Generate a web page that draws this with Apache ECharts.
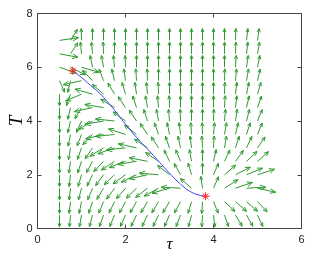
<!DOCTYPE html>
<html><head><meta charset="utf-8">
<script src="https://cdn.jsdelivr.net/npm/echarts@6/dist/echarts.min.js"></script>
<style>html,body{margin:0;padding:0;background:#fff}#c{width:314px;height:259px}</style>
</head><body><div id="c"></div>
<script>
// grid of quiver tails
const gridX = [0.5,0.75,1.0,1.25,1.5,1.75,2.0,2.25,2.5,2.75,3.0,3.25,3.5,3.75,4.0,4.25,4.5,4.75,5.0];
const gridY = [7.0,6.5,6.0,5.5,5.0,4.5,4.0,3.5,3.0,2.5,2.0,1.5,1.0,0.5];
// direction of each (normalised) arrow, degrees in data space, one row per gridY
const angles = [
  [13, 69, 91, 90, 90, 90, 90, 90, 90, 90, 90, 90, 90, 90, 90, 90, 89, 86, 85],
  [343, 68, 93, 93, 91, 90, 90, 90, 90, 90, 90, 90, 90, 90, 90, 90, 89, 86, 84],
  [330, 320, 335, 97, 96, 93, 91, 90, 90, 90, 90, 90, 90, 90, 90, 90, 88, 85, 83],
  [285, 262, 200, 120, 103, 98, 95, 92, 91, 90, 90, 90, 90, 90, 90, 89, 87, 84, 82],
  [270, 258, 215, 155, 125, 110, 100, 95, 93, 91, 90, 90, 90, 90, 90, 89, 86, 83, 80],
  [270, 262, 250, 200, 165, 135, 112, 101, 96, 93, 91, 90, 90, 90, 90, 88, 86, 82, 78],
  [270, 262, 255, 225, 196, 170, 130, 112, 101, 96, 93, 91, 90, 90, 89, 87, 85, 81, 76],
  [270, 263, 257, 240, 202, 190, 152, 128, 112, 102, 97, 94, 92, 91, 87, 84, 82, 79, 76],
  [270, 264, 258, 248, 225, 210, 190, 160, 132, 112, 102, 97, 94, 92, 88, 84, 79, 74, 67],
  [270, 265, 259, 252, 240, 228, 212, 195, 162, 132, 106, 104, 96, 90, 82, 74, 66, 57, 55],
  [270, 266, 260, 254, 246, 238, 230, 219, 200, 172, 128, 109, 100, 90, 75, 55, 40, 34, 28],
  [270, 266, 261, 256, 250, 246, 242, 238, 232, 222, 205, 175, 125, 95, 75, 46, 29, 5, 340],
  [270, 266, 263, 259, 256, 254, 252, 251, 250, 250, 250, 252, 260, 268, 284, 303, 305, 305, 300],
  [270, 267, 264, 261, 258, 256, 255, 254, 254, 254, 255, 257, 261, 268, 274, 282, 290, 289, 286]
];
const ARROW_LEN = 0.44;
// trajectory
const trajX = [0.80, 1.00, 1.20, 1.42, 1.70, 2.00, 2.30, 2.56, 2.82, 3.05, 3.30, 3.50, 3.68, 3.82];
const trajY = [5.87, 5.62, 5.33, 5.02, 4.50, 3.88, 3.30, 2.85, 2.38, 1.97, 1.58, 1.35, 1.24, 1.20];
const markX = [0.80, 3.82];
const markY = [5.87, 1.20];
const xTicks = [0, 2, 4, 6];
const yTicks = [0, 2, 4, 6, 8];

const quiverData = [];
gridY.forEach((y, r) => gridX.forEach((x, c) => quiverData.push([x, y, angles[r][c]])));
const trajData = trajX.map((x, i) => [x, trajY[i]]);
const markData = markX.map((x, i) => [x, markY[i]]);

const GREEN = '#2f9a2f';
const AX = '#444';
const chart = echarts.init(document.getElementById('c'), null, {renderer: 'canvas'});
const axBase = {
  type: 'value', splitLine: {show: false},
  axisLine: {show: true, onZero: false, lineStyle: {color: AX, width: 1}},
  axisTick: {show: true, inside: true, length: 4, lineStyle: {color: AX}},
};
chart.setOption({
  animation: false,
  grid: {left: 37.5, top: 13.5, width: 264, height: 215, containLabel: false, outerBoundsMode: 'none'},
  xAxis: [
    Object.assign({}, axBase, {min: xTicks[0], max: xTicks[xTicks.length-1], interval: 2, position: 'bottom',
      name: 'τ', nameLocation: 'middle', nameGap: 8, nameMoveOverlap: false,
      nameTextStyle: {fontFamily: 'Liberation Serif', fontStyle: 'italic', fontSize: 17, color: '#000'},
      axisLabel: {margin: 6, fontFamily: 'Liberation Sans', fontSize: 11, color: '#222'}}),
    Object.assign({}, axBase, {min: 0, max: 6, interval: 2, position: 'top', axisLabel: {show: false}})
  ],
  yAxis: [
    Object.assign({}, axBase, {min: yTicks[0], max: yTicks[yTicks.length-1], interval: 2, position: 'left',
      name: 'T', nameLocation: 'middle', nameGap: 11.5, nameMoveOverlap: false,
      nameTextStyle: {fontFamily: 'Liberation Serif', fontStyle: 'italic', fontSize: 19, color: '#000'},
      axisLabel: {margin: 5, fontFamily: 'Liberation Sans', fontSize: 11, color: '#222'}}),
    Object.assign({}, axBase, {min: 0, max: 8, interval: 2, position: 'right', axisLabel: {show: false}})
  ],
  series: [
    {
      type: 'custom', coordinateSystem: 'cartesian2d', xAxisIndex: 0, yAxisIndex: 0,
      data: quiverData, encode: {x: 0, y: 1}, clip: true, silent: true,
      renderItem: function (params, api) {
        const x = api.value(0), y = api.value(1), a = api.value(2) * Math.PI / 180;
        const p0 = api.coord([x, y]);
        const p1 = api.coord([x + ARROW_LEN * Math.cos(a), y + ARROW_LEN * Math.sin(a)]);
        const dx = p1[0] - p0[0], dy = p1[1] - p0[1];
        const len = Math.hypot(dx, dy);
        const ux = dx / len, uy = dy / len;
        const h = Math.max(3, len * 0.3), w = h * 0.42;
        const bx = p1[0] - ux * h, by = p1[1] - uy * h;
        return {type: 'group', children: [
          {type: 'line', shape: {x1: p0[0], y1: p0[1], x2: p1[0], y2: p1[1]}, style: {stroke: GREEN, lineWidth: 1}},
          {type: 'polyline', shape: {points: [[bx - uy * w, by + ux * w], [p1[0], p1[1]], [bx + uy * w, by - ux * w]]},
            style: {stroke: GREEN, fill: null, lineWidth: 1}}
        ]};
      }
    },
    {
      type: 'line', data: trajData, smooth: true, showSymbol: false, symbol: 'none',
      lineStyle: {color: '#3a3aff', width: 1}, z: 5, silent: true
    },
    {
      type: 'custom', coordinateSystem: 'cartesian2d', data: markData, encode: {x: 0, y: 1}, z: 6, silent: true,
      renderItem: function (params, api) {
        const p = api.coord([api.value(0), api.value(1)]);
        const r = 4, d = r * 0.707;
        const st = {stroke: '#ff2020', lineWidth: 1};
        return {type: 'group', children: [
          {type: 'line', shape: {x1: p[0] - r, y1: p[1], x2: p[0] + r, y2: p[1]}, style: st},
          {type: 'line', shape: {x1: p[0], y1: p[1] - r, x2: p[0], y2: p[1] + r}, style: st},
          {type: 'line', shape: {x1: p[0] - d, y1: p[1] - d, x2: p[0] + d, y2: p[1] + d}, style: st},
          {type: 'line', shape: {x1: p[0] - d, y1: p[1] + d, x2: p[0] + d, y2: p[1] - d}, style: st}
        ]};
      }
    }
  ]
});
</script>
</body></html>
